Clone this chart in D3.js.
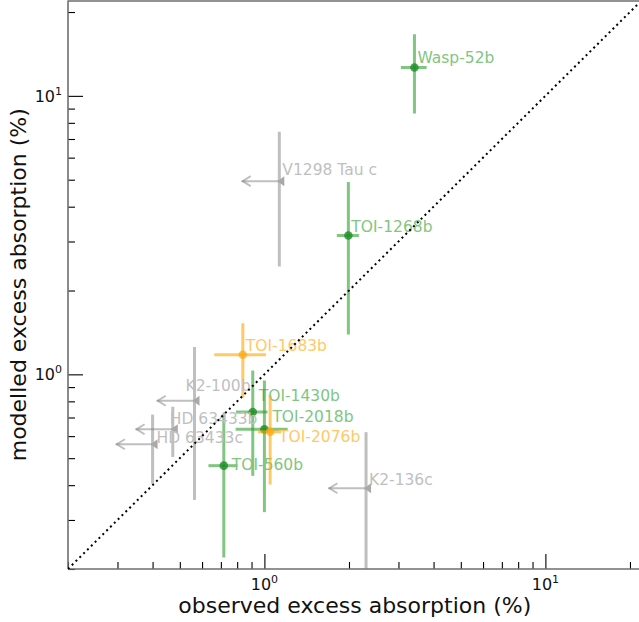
<!DOCTYPE html>
<html><head><meta charset="utf-8">
<script src="https://cdn.jsdelivr.net/npm/d3@7"></script>
<style>html,body{margin:0;padding:0;background:#fff;}svg{display:block;font-family:"DejaVu Sans",sans-serif;}</style>
</head><body>
<svg id="c" width="639" height="622"></svg>
<script>
// ---- data ----
const names  = ["Wasp-52b","TOI-1268b","TOI-1430b","TOI-2018b","TOI-560b","TOI-1683b","TOI-2076b","V1298 Tau c","K2-100b","HD 63433b","HD 63433c","K2-136c"];
const groups = ["det","det","det","det","det","tent","tent","lim","lim","lim","lim","lim"];
const obsX   = [3.42, 1.99, 0.909, 1.00, 0.717, 0.838, 1.048, 1.13, 0.564, 0.472, 0.400, 2.30];
const obsXerr= [0.36, 0.18, 0.117, 0.21, 0.085, 0.175, 0.10, 0.30, 0.15, 0.124, 0.104, 0.61];
const modY   = [12.65, 3.15, 0.732, 0.635, 0.47, 1.176, 0.622, 4.94, 0.804, 0.635, 0.561, 0.39];
const modYerr= [4.0, 1.76, 0.30, 0.315, 0.25, 0.35, 0.22, 2.5, 0.45, 0.13, 0.156, 0.23];
const axisLimits = [0.2, 22];
const majorTicks = [1, 10];
const majorLabels = [["10","0"],["10","1"]];
const xLabel = "observed excess absorption (%)";
const yLabel = "modelled excess absorption (%)";

// ---- layout / style (not data) ----
const labelNudge = {"Wasp-52b":[3,-4],"TOI-1268b":[3,-4],"TOI-1430b":[6,-11],"TOI-2018b":[8,-7],
  "TOI-560b":[8,4],"TOI-1683b":[3,-4],"TOI-2076b":[9,10],"V1298 Tau c":[3,-6],"K2-100b":[-9,-10],
  "HD 63433b":[-3,-5],"HD 63433c":[4,-1],"K2-136c":[3,-3]};
const style = {
  det:  {bar:"rgba(44,160,44,0.6)", dot:"rgba(30,140,40,0.8)", text:"#80c680"},
  tent: {bar:"rgba(255,165,0,0.6)", dot:"rgba(255,170,20,0.75)", text:"#ffc966"},
  lim:  {bar:"rgba(128,128,128,0.5)", dot:"#a9a9a9", text:"#bfbfbf"}
};

const L=68, R=641.6, T=0.5, B=569;
const svg = d3.select("#c");
svg.append("rect").attr("width",639).attr("height",622).attr("fill","#fff");
const x = d3.scaleLog().domain(axisLimits).range([L,R]);
const y = d3.scaleLog().domain(axisLimits).range([B,T]);

svg.append("defs").append("clipPath").attr("id","pc").append("rect")
  .attr("x",L).attr("y",T).attr("width",R-L).attr("height",B-T);

// minor ticks
const minors=[];
[0.1,1,10].forEach(d=>{for(let k=2;k<=9;k++){const v=d*k; if(v>=axisLimits[0]-1e-9&&v<=axisLimits[1]) minors.push(v);}});

const gx = svg.append("g").attr("transform",`translate(0,${B})`);
gx.call(d3.axisBottom(x).tickValues(minors).tickSize(-7).tickFormat(""));
gx.call(g=>g.select(".domain").remove());
const gx2 = svg.append("g").attr("transform",`translate(0,${B})`);
gx2.call(d3.axisBottom(x).tickValues(majorTicks).tickSize(-15).tickFormat(""));
gx2.call(g=>g.select(".domain").remove());
const gy = svg.append("g").attr("transform",`translate(${L},0)`);
gy.call(d3.axisLeft(y).tickValues(minors).tickSize(-7).tickFormat(""));
gy.call(g=>g.select(".domain").remove());
const gy2 = svg.append("g").attr("transform",`translate(${L},0)`);
gy2.call(d3.axisLeft(y).tickValues(majorTicks).tickSize(-15).tickFormat(""));
gy2.call(g=>g.select(".domain").remove());
svg.selectAll(".tick line").attr("stroke","#000").attr("stroke-width",1.1);

// tick labels
majorTicks.forEach((v,i)=>{
  const t = svg.append("text").attr("x",x(v)).attr("y",590).attr("text-anchor","middle")
    .attr("font-size",16).attr("fill","#111");
  t.append("tspan").text(majorLabels[i][0]);
  t.append("tspan").attr("font-size",11).attr("dy",-7).text(majorLabels[i][1]);
  const t2 = svg.append("text").attr("x",62).attr("y",y(v)+6).attr("text-anchor","end")
    .attr("font-size",16).attr("fill","#111");
  t2.append("tspan").text(majorLabels[i][0]);
  t2.append("tspan").attr("font-size",11).attr("dy",-7).text(majorLabels[i][1]);
});

// spines
const sp = svg.append("g").attr("stroke","#6e6e6e").attr("stroke-width",1.6).attr("fill","none");
sp.append("line").attr("x1",L).attr("x2",L).attr("y1",T).attr("y2",B);
sp.append("line").attr("x1",L).attr("x2",R).attr("y1",B).attr("y2",B);
sp.append("line").attr("x1",L).attr("x2",R).attr("y1",T+0.5).attr("y2",T+0.5);
sp.append("line").attr("x1",R).attr("x2",R).attr("y1",T).attr("y2",B);

// axis titles
svg.append("text").attr("x",(L+R)/2).attr("y",613).attr("text-anchor","middle")
  .attr("font-size",22).attr("fill","#111").text(xLabel);
svg.append("text").attr("transform",`translate(26,${(T+B)/2}) rotate(-90)`).attr("text-anchor","middle")
  .attr("font-size",22).attr("fill","#111").text(yLabel);

// data
const pts = names.map((n,i)=>({n,g:groups[i],x:obsX[i],xe:obsXerr[i],y:modY[i],ye:modYerr[i]}));
const plot = svg.append("g").attr("clip-path","url(#pc)");
pts.forEach(p=>{
  const s = style[p.g];
  const cx=x(p.x), cy=y(p.y);
  const yl = Math.max(p.y-p.ye, 0.01);
  plot.append("line").attr("x1",cx).attr("x2",cx).attr("y1",y(p.y+p.ye)).attr("y2",y(yl))
    .attr("stroke",s.bar).attr("stroke-width",3);
  if(p.g!=="lim"){
    plot.append("line").attr("x1",x(p.x-p.xe)).attr("x2",x(p.x+p.xe)).attr("y1",cy).attr("y2",cy)
      .attr("stroke",s.bar).attr("stroke-width",3);
    plot.append("circle").attr("cx",cx).attr("cy",cy).attr("r",4.3).attr("fill",s.dot);
  } else {
    const tx = x(p.x-p.xe);
    plot.append("line").attr("x1",tx).attr("x2",cx).attr("y1",cy).attr("y2",cy)
      .attr("stroke",s.bar).attr("stroke-width",2);
    plot.append("path").attr("d",`M${tx+9},${cy-5}L${tx+1},${cy}L${tx+9},${cy+5}`)
      .attr("fill","none").attr("stroke",s.bar).attr("stroke-width",2);
    plot.append("path").attr("d",`M${cx-2},${cy}L${cx+5},${cy-5}L${cx+5},${cy+5}Z`)
      .attr("fill",s.dot);
  }
  const off = labelNudge[p.n];
  plot.append("text").attr("x",cx+off[0]).attr("y",cy+off[1]).attr("font-size",15.5)
    .attr("fill",s.text).text(p.n);
});

// 1:1 line
plot.append("line").attr("x1",x(axisLimits[0])).attr("y1",y(axisLimits[0]))
  .attr("x2",x(axisLimits[1])).attr("y2",y(axisLimits[1]))
  .attr("stroke","#000").attr("stroke-width",2).attr("stroke-dasharray","2,3.4");
</script>
</body></html>
